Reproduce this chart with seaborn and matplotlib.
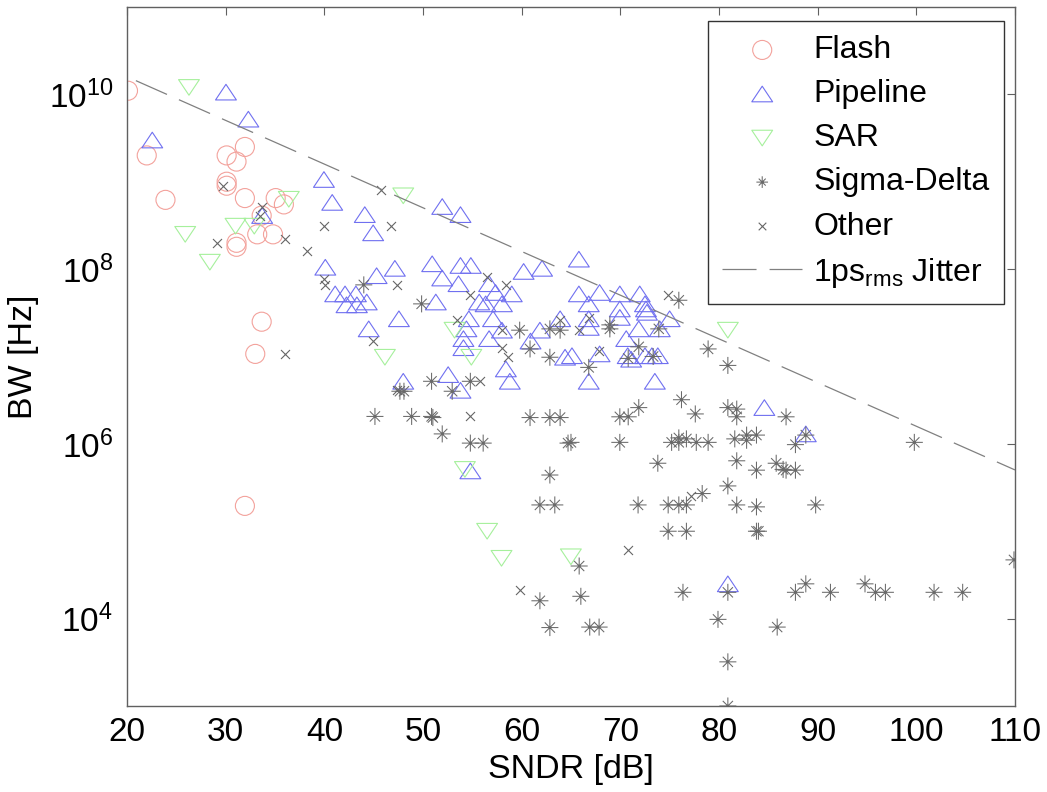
import numpy as np
import pandas as pd
import matplotlib
matplotlib.use("Agg")
import matplotlib.pyplot as plt
import seaborn as sns
from matplotlib.path import Path
from matplotlib.markers import MarkerStyle
from matplotlib.ticker import FixedLocator, LogFormatterSciNotation, NullLocator

# ---------------- data ----------------
flash_sndr = [20.1, 22.0, 23.9, 30.1, 31.95, 31.1, 30.1, 30.1, 31.95, 35.07, 35.9,
              33.65, 33.2, 34.8, 31.1, 31.1, 33.65, 33.0, 31.95]
flash_bw = [1.1e10, 2.0e9, 6.2e8, 2.0e9, 2.5e9, 1.7e9, 1.0e9, 9.0e8, 6.5e8, 6.5e8, 5.5e8,
            4.1e8, 2.5e8, 2.5e8, 2.0e8, 1.8e8, 2.5e7, 1.07e7, 1.95e5]

pipe_sndr = [30.03, 32.3, 22.56, 39.96, 40.8, 33.7, 51.95, 53.8, 44.1, 44.95,
             47.15, 50.93, 53.8, 54.85, 60.2, 62.07, 45.3, 51.95, 53.6, 56.7,
             57.35, 59.0, 42.1, 43.2, 44.3, 43.3, 42.25, 41.1, 40.1, 51.3,
             55.7, 56.35, 58.0, 47.56, 44.5, 54.65, 54.4, 57.1, 56.7, 58.0,
             54.1, 54.1, 60.9, 61.85, 63.9, 64.4, 58.4, 58.8, 52.55, 53.8,
             48.0, 54.8, 65.8, 65.8, 67.9, 69.95, 71.97, 72.5, 72.6, 72.7,
             66.8, 69.95, 75.0, 66.8, 66.8, 69.95, 71.87, 74.0, 70.6, 65.1,
             67.9, 70.75, 71.1, 72.5, 73.2, 73.8, 66.8, 73.5, 84.6, 88.8, 80.9]
pipe_bw = [1.06e10, 5.2e9, 3.0e9, 1.06e9, 5.8e8, 4.1e8, 5.2e8, 4.2e8, 4.2e8, 2.6e8,
           1.02e8, 1.15e8, 1.1e8, 1.1e8, 9.4e7, 1.02e8, 8.4e7, 7.9e7, 6.8e7, 6.8e7,
           5.4e7, 5.2e7, 5.2e7, 5.2e7, 4.2e7, 3.9e7, 3.9e7, 5.2e7, 1.05e8, 4.2e7,
           4.2e7, 4.0e7, 4.0e7, 2.7e7, 2.07e7, 2.7e7, 2.07e7, 2.7e7, 1.6e7, 2.0e7,
           1.6e7, 1.26e7, 1.5e7, 2.0e7, 2.7e7, 9.8e6, 7.2e6, 5.2e6, 6.2e6, 4.1e6,
           5.2e6, 4.9e5, 1.3e8, 5.2e7, 5.4e7, 5.2e7, 5.2e7, 4.0e7, 3.5e7, 3.2e7,
           4.0e7, 3.5e7, 2.7e7, 2.7e7, 2.15e7, 2.8e7, 2.07e7, 2.07e7, 1.6e7, 1.02e7,
           1.07e7, 1.02e7, 9.3e6, 1.02e7, 1.02e7, 1.02e7, 5.2e6, 5.2e6, 2.6e6, 1.3e6, 2.5e4]

sar_sndr = [26.28, 36.4, 31.0, 32.9, 25.9, 28.4, 48.0, 53.2, 46.14, 54.9,
            54.25, 80.9, 56.5, 57.96, 64.99]
sar_bw = [1.2e10, 6.3e8, 3.1e8, 3.1e8, 2.5e8, 1.2e8, 6.9e8, 2.0e7, 9.8e6, 9.8e6,
          5.1e5, 2.0e7, 1.0e5, 4.9e4, 5.1e4]

sd_sndr = [44.0, 49.86, 59.8, 60.85, 62.86, 63.9, 62.86, 50.87, 54.8, 47.66,
           48.07, 52.96, 45.13, 48.85, 50.87, 51.0, 51.95, 54.8, 56.1, 60.85,
           62.86, 63.9, 64.7, 62.86, 61.85, 63.36, 61.85, 62.86, 75.93, 68.94,
           68.94, 73.9, 71.87, 70.8, 73.33, 66.8, 78.9, 80.9, 76.2, 71.87,
           69.95, 70.8, 77.6, 80.9, 81.8, 81.8, 86.8, 65.0, 69.95, 75.2,
           75.93, 75.93, 76.7, 77.7, 78.9, 81.6, 82.8, 82.8, 83.8, 73.8,
           81.8, 83.8, 85.8, 86.8, 87.75, 88.8, 99.8, 86.5, 87.75, 80.9,
           71.8, 74.85, 75.93, 76.7, 78.3, 81.8, 83.8, 74.85, 76.7, 83.8,
           84.0, 65.83, 66.0, 66.9, 67.85, 76.35, 80.9, 79.9, 85.9, 80.9,
           80.9, 89.8, 87.75, 88.8, 91.3, 94.8, 95.86, 96.87, 101.8, 104.7, 109.9]
sd_bw = [6.6e7, 4.0e7, 2.0e7, 1.22e7, 2.07e7, 2.0e7, 9.8e6, 5.2e6, 5.2e6, 4.0e6,
         4.0e6, 4.0e6, 2.06e6, 2.06e6, 2.06e6, 2.0e6, 1.3e6, 1.02e6, 1.02e6, 2.0e6,
         2.0e6, 2.0e6, 1.02e6, 4.4e5, 2.0e5, 2.0e5, 1.6e4, 7.9e3, 4.4e7, 2.3e7,
         2.07e7, 2.07e7, 1.29e7, 9.5e6, 1.0e7, 7.5e6, 1.22e7, 7.9e6, 3.2e6, 2.6e6,
         2.04e6, 2.04e6, 2.2e6, 2.6e6, 2.5e6, 2.04e6, 2.04e6, 1.04e6, 1.04e6, 1.04e6,
         1.17e6, 1.04e6, 1.14e6, 1.04e6, 1.04e6, 1.14e6, 1.26e6, 1.1e6, 1.26e6, 6.0e5,
         6.4e5, 5.0e5, 6.0e5, 5.0e5, 9.8e5, 1.26e6, 1.04e6, 5.1e5, 5.0e5, 3.3e5,
         2.0e5, 2.0e5, 2.0e5, 2.0e5, 2.7e5, 2.0e5, 1.9e5, 1.0e5, 1.0e5, 1.0e5,
         1.0e5, 4.0e4, 1.8e4, 8.0e3, 8.0e3, 2.0e4, 2.0e4, 9.8e3, 8.0e3, 3.2e3,
         1.0e3, 2.0e5, 2.0e4, 2.5e4, 2.0e4, 2.5e4, 2.0e4, 2.0e4, 2.0e4, 2.0e4, 4.7e4]

other_sndr = [29.76, 33.65, 33.5, 39.96, 36.0, 29.15, 38.2, 39.96, 40.1, 36.0,
              45.73, 46.75, 56.45, 47.4, 58.4, 54.8, 53.4, 57.96, 57.96, 58.6,
              44.9, 55.8, 47.4, 54.8, 63.9, 74.8, 65.8, 66.8, 67.8, 59.8, 70.8, 77.2]
other_bw = [9.0e8, 5.1e8, 4.1e8, 3.1e8, 2.2e8, 2.0e8, 1.6e8, 7.8e7, 6.6e7, 1.08e7,
            8.1e8, 3.1e8, 8.2e7, 6.6e7, 6.6e7, 5.0e7, 2.6e7, 2.0e7, 1.26e7, 9.8e6,
            1.5e7, 5.2e6, 4.1e6, 2.1e6, 2.6e7, 5.0e7, 2.0e7, 2.75e7, 1.17e7, 2.1e4, 6.1e4, 2.5e5]

jitter_sndr = [20.9, 110.0]
jitter_bw = [1.435e10, 5.03e5]

x_ticks = [20, 30, 40, 50, 60, 70, 80, 90, 100, 110]
y_ticks = [1e4, 1e6, 1e8, 1e10]

# ---------------- style ----------------
sns.set_style("white")
plt.rcParams.update({
    "font.family": ["Liberation Sans", "DejaVu Sans"],
    "mathtext.fontset": "custom",
    "mathtext.rm": "Liberation Sans",
    "mathtext.it": "Liberation Sans:italic",
    "mathtext.bf": "Liberation Sans:bold",
    "mathtext.default": "regular",
    "lines.scale_dashes": False,
    "axes.edgecolor": "#606060",
    "axes.linewidth": 1.0,
    "text.color": "black",
    "axes.labelcolor": "black",
})

c_flash = "#f3a29c"
c_pipe = "#7070f0"
c_sar = "#a6f09c"
c_sd = "#6a6a6a"
c_other = "#666666"

tri_up = MarkerStyle(Path([(0, 0.75), (-1, -0.75), (1, -0.75), (0, 0.75)],
                          [Path.MOVETO, Path.LINETO, Path.LINETO, Path.CLOSEPOLY]))
tri_down = MarkerStyle(Path([(0, -0.75), (-1, 0.75), (1, 0.75), (0, -0.75)],
                            [Path.MOVETO, Path.LINETO, Path.LINETO, Path.CLOSEPOLY]))
d = 0.6
asterisk = MarkerStyle(Path(
    [(-1, 0), (1, 0), (0, -1), (0, 1), (-d, -d), (d, d), (-d, d), (d, -d)],
    [Path.MOVETO, Path.LINETO] * 4))

fig = plt.figure(figsize=(10.47, 7.92), dpi=100)
ax = fig.add_axes([0.1213, 0.1086, 0.8481, 0.8826])

sns.scatterplot(x=flash_sndr, y=flash_bw, marker="o", s=188, facecolor="none",
                edgecolor=c_flash, color=c_flash, linewidth=0.8, ax=ax, label="Flash")
sns.scatterplot(x=pipe_sndr, y=pipe_bw, marker=tri_up, s=225, facecolor="none",
                edgecolor=c_pipe, color=c_pipe, linewidth=0.8, ax=ax, label="Pipeline")
sns.scatterplot(x=sar_sndr, y=sar_bw, marker=tri_down, s=225, facecolor="none",
                edgecolor=c_sar, color=c_sar, linewidth=0.8, ax=ax, label="SAR")
sns.scatterplot(x=sd_sndr, y=sd_bw, marker=asterisk, s=150, facecolor="none",
                edgecolor=c_sd, color=c_sd, linewidth=0.75, ax=ax, label="Sigma-Delta")
sns.scatterplot(x=other_sndr, y=other_bw, marker="x", s=42, color=c_other,
                linewidth=0.8, ax=ax, label="Other")
sns.lineplot(x=jitter_sndr, y=jitter_bw, color="#808080", linewidth=0.9,
             linestyle=(0, (24.5, 9.4)), ax=ax, label=r"1ps$_{\mathregular{rms}}$ Jitter")

ax.set_yscale("log")
ax.set_xlim(20, 110)
ax.set_ylim(1e3, 1e11)
ax.xaxis.set_major_locator(FixedLocator(x_ticks))
ax.yaxis.set_major_locator(FixedLocator(y_ticks))
ax.yaxis.set_major_formatter(LogFormatterSciNotation())
ax.yaxis.set_minor_locator(NullLocator())
ax.xaxis.set_minor_locator(NullLocator())

ax.tick_params(direction="in", length=6, width=0.8, color="#606060",
               top=True, right=True, labelsize=24, labelcolor="black")
ax.tick_params(axis="x", pad=8)
ax.tick_params(axis="y", pad=10)
for sp in ax.spines.values():
    sp.set_visible(True)
    sp.set_color("#606060")

ax.set_xlabel("SNDR [dB]", fontsize=24.5, labelpad=4)
ax.set_ylabel("BW [Hz]", fontsize=24.5, labelpad=7)

leg = ax.legend(loc="upper right", bbox_to_anchor=(0.9876, 0.980), borderaxespad=0,
                fontsize=23, frameon=True, fancybox=False, framealpha=1,
                edgecolor="#333333", handlelength=2.5, handletextpad=0.35,
                borderpad=0.45, labelspacing=0.44, scatterpoints=1)
leg.get_frame().set_linewidth(1.0)
handles = leg.legend_handles
handles[3].set_sizes([70])
handles[4].set_sizes([30])

fig.savefig("out.png", dpi=100)
